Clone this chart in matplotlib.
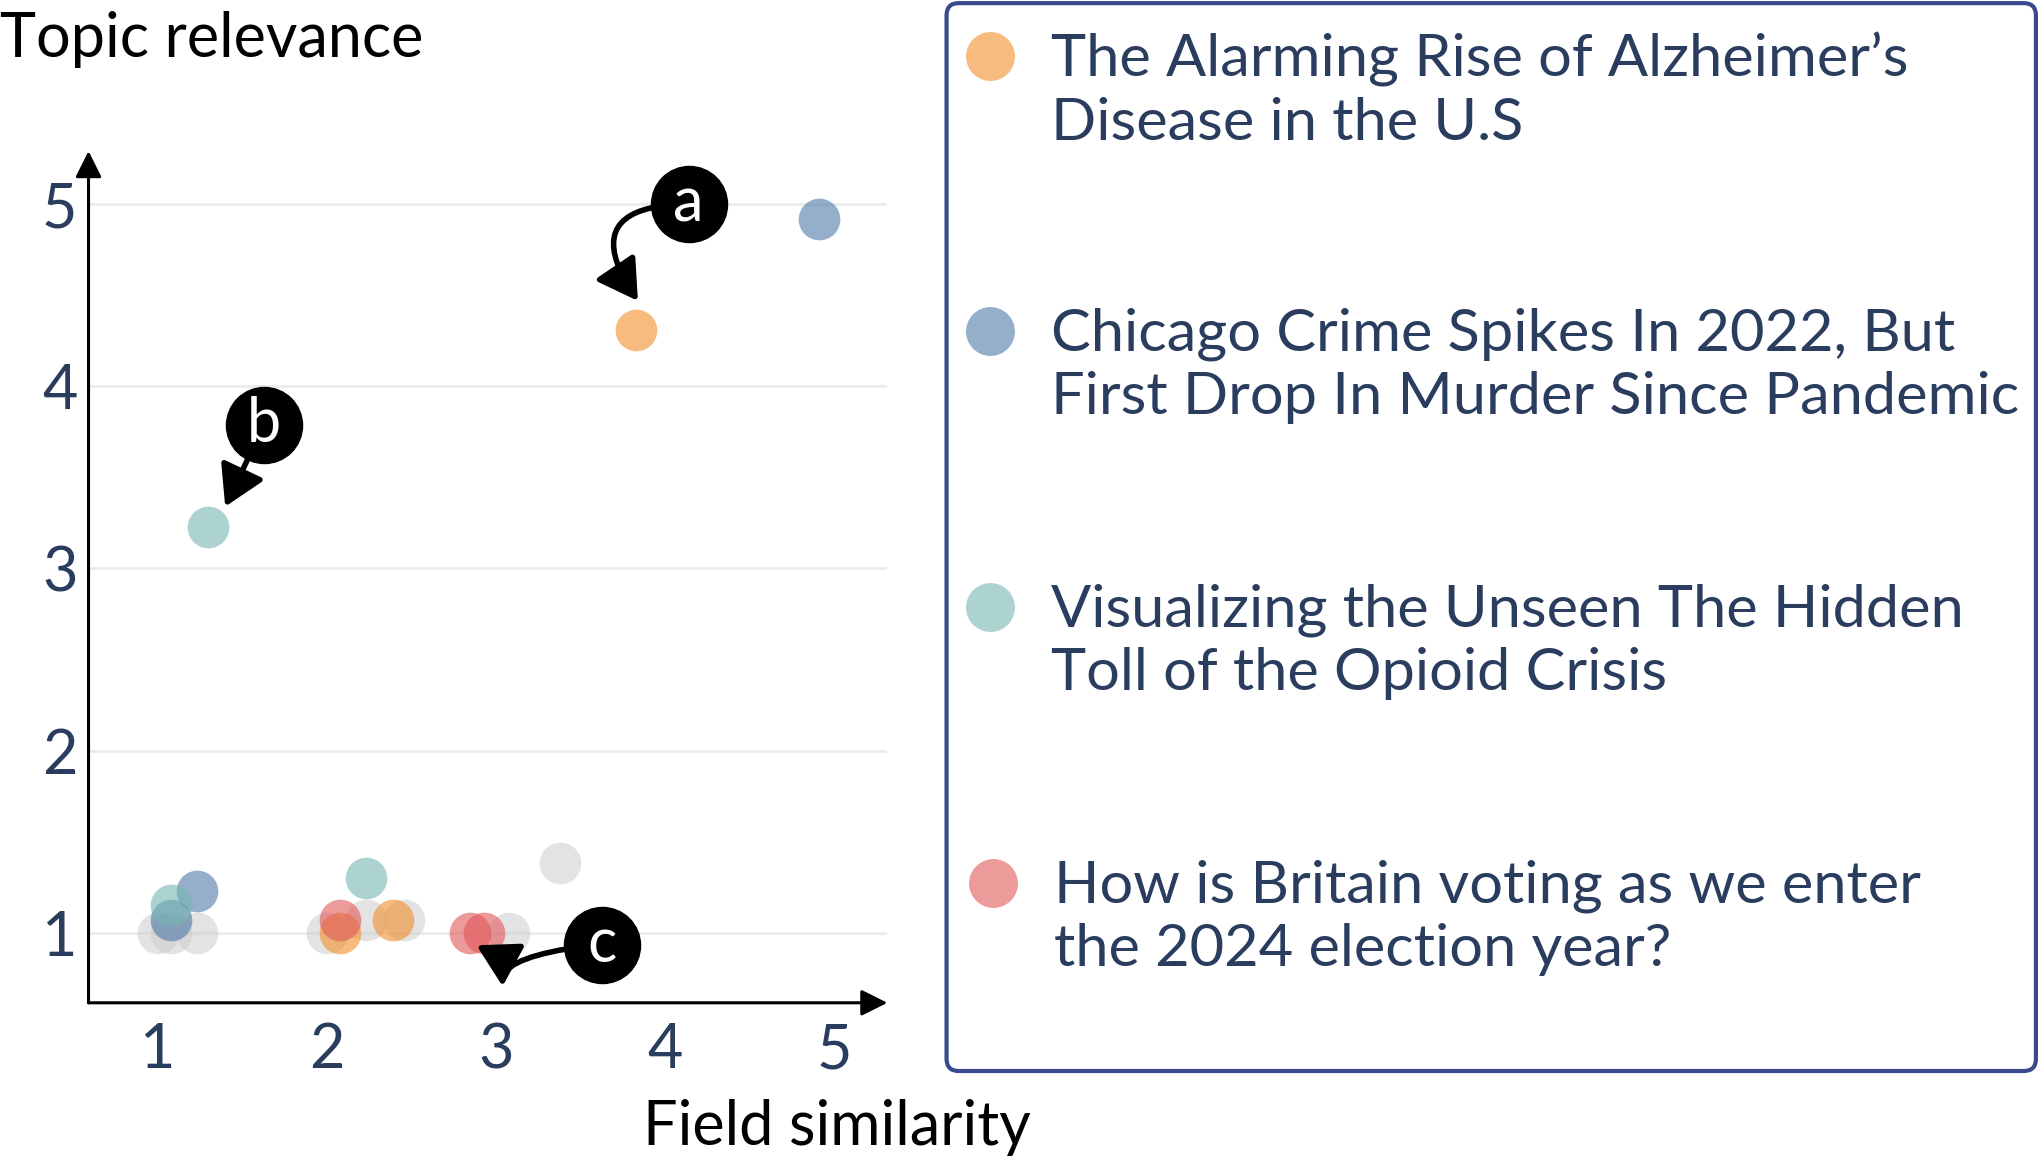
import matplotlib
matplotlib.use('Agg')
import matplotlib.pyplot as plt
from matplotlib.patches import FancyBboxPatch

plt.rcParams['font.family'] = ['Lato', 'DejaVu Sans']

# ------------------------------------------------------------
# data: (field similarity, topic relevance) per article
# ------------------------------------------------------------
grey_x   = [1.0, 1.08, 1.235, 2.0, 2.23, 2.46, 3.08, 3.38]
grey_y   = [1.0, 1.0, 1.0, 1.0, 1.07, 1.07, 1.0, 1.38]

alz_x    = [3.83, 2.08, 2.39]
alz_y    = [4.31, 1.0, 1.07]
chi_x    = [4.91, 1.235, 1.08]
chi_y    = [4.92, 1.23, 1.07]
opi_x    = [1.30, 1.08, 2.23]
opi_y    = [3.23, 1.15, 1.30]
bri_x    = [2.08, 2.85, 2.93]
bri_y    = [1.07, 1.0, 1.0]

series_labels = [
    "The Alarming Rise of Alzheimer\u2019s\nDisease in the U.S",
    "Chicago Crime Spikes In 2022, But\nFirst Drop In Murder Since Pandemic",
    "Visualizing the Unseen The Hidden\nToll of the Opioid Crisis",
    "How is Britain voting as we enter\nthe 2024 election year?",
]
series_colors = ['#f28e2b', '#4e79a7', '#76b7b2', '#e15759']
ticks = [1, 2, 3, 4, 5]

# callouts: letter, circle centre, arrow tip, connection style
callouts = [
    ('a', (4.14, 5.0), (3.84, 4.47), 'angle3,angleA=180,angleB=124'),
    ('b', (1.63, 3.79), (1.40, 3.34), 'arc3,rad=0'),
    ('c', (3.63, 0.934), (3.04, 0.705), 'angle3,angleA=185,angleB=92'),
]

NAVY = '#2b3d5e'
FS = 44
MS = 900

fig = plt.figure(figsize=(20.4, 11.62), dpi=100)
ax = fig.add_axes([0.0434, 0.137, 0.3916, 0.733])

for y in ticks:
    ax.axhline(y, color='#ebebeb', lw=2, zorder=0)

ax.scatter(grey_x, grey_y, s=MS, color='#cccccc', alpha=0.55, lw=0, zorder=2)
for xs, ys, c in zip([alz_x, chi_x, opi_x, bri_x], [alz_y, chi_y, opi_y, bri_y],
                     series_colors):
    ax.scatter(xs, ys, s=MS, color=c, alpha=0.6, lw=0, zorder=3)

ax.set_xlim(0.592, 5.315)
ax.set_ylim(0.614, 5.293)
ax.set_xticks(ticks)
ax.set_yticks(ticks)
ax.tick_params(length=0, labelsize=FS, labelcolor=NAVY)
ax.tick_params(axis='x', pad=14)
ax.tick_params(axis='y', pad=8)
for s in ax.spines.values():
    s.set_visible(False)

# axis arrows
arrow_kw = dict(arrowstyle='-|>,head_length=0.8,head_width=0.4', lw=2.2,
                color='black', mutation_scale=20, shrinkA=0, shrinkB=0)
ax.annotate('', xy=(1, 0), xytext=(0, 0), xycoords='axes fraction',
            arrowprops=arrow_kw, annotation_clip=False)
ax.annotate('', xy=(0, 1), xytext=(0, 0), xycoords='axes fraction',
            arrowprops=arrow_kw, annotation_clip=False)

# callout circles with arrows
for letter, (cx, cy), (tx, ty), conn in callouts:
    ax.annotate('', xy=(tx, ty), xytext=(cx, cy),
                arrowprops=dict(arrowstyle='-|>,head_length=1.1,head_width=0.65',
                                lw=4, color='black', mutation_scale=22,
                                shrinkA=27, shrinkB=0, connectionstyle=conn),
                zorder=5, annotation_clip=False)
    ax.scatter([cx], [cy], s=3000, color='black', zorder=6, clip_on=False)
    ax.text(cx, cy, letter, color='white', fontsize=FS, ha='center',
            va='center', zorder=7)

fig.text(0.0, 0.966, "Topic relevance", fontsize=FS, ha='left', va='center')
fig.text(0.410, 0.030, "Field similarity", fontsize=FS, ha='center', va='center')

# legend panel
box = FancyBboxPatch((0.464, 0.0783), 0.534, 0.919,
                     boxstyle='round,pad=0,rounding_size=0.006',
                     mutation_aspect=1.756, transform=fig.transFigure,
                     fc='none', ec='#394a8c', lw=3)
fig.patches.append(box)

leg_ax = fig.add_axes([0, 0, 1, 1], facecolor='none')
leg_ax.set_xlim(0, 1)
leg_ax.set_ylim(0, 1)
leg_ax.axis('off')
text_y = [0.922, 0.685, 0.448, 0.210]
for i, (lab, c) in enumerate(zip(series_labels, series_colors)):
    dx = 0.0015 if i == 3 else 0
    leg_ax.scatter([0.4853 + dx], [text_y[i] + 0.030], s=1240, color=c,
                   alpha=0.6, lw=0)
    leg_ax.text(0.515 + dx, text_y[i], lab, fontsize=42.8, color=NAVY,
                ha='left', va='center', linespacing=1.23)

plt.savefig('out.png', dpi=100)
plt.close()
